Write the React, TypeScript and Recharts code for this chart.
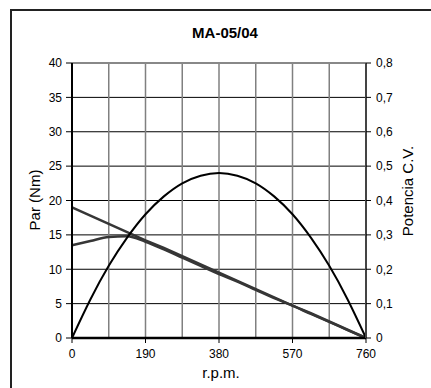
import { LineChart, Line, XAxis, YAxis, CartesianGrid, ReferenceLine } from 'recharts';

const rpm = [0, 47.5, 95, 142.5, 190, 237.5, 285, 332.5, 380, 427.5, 475, 522.5, 570, 617.5, 665, 712.5, 760];
const parRecta = [19, 17.8, 16.6, 15.4, 14.2, 13.1, 11.9, 10.7, 9.5, 8.3, 7.1, 5.9, 4.7, 3.6, 2.4, 1.2, 0];
const parCurva = [13.5, 14.1, 14.7, 14.8, 14.0, 12.9, 11.7, 10.5, 9.3, 8.2, 7.0, 5.8, 4.7, 3.5, 2.35, 1.15, 0];
const potencia = [0, 0.112, 0.21, 0.292, 0.36, 0.412, 0.45, 0.472, 0.48, 0.472, 0.45, 0.412, 0.36, 0.292, 0.21, 0.112, 0];

const xTicks = [0, 190, 380, 570, 760];
const gridRpm = [95, 190, 285, 380, 475, 570, 665];
const parTicks = [0, 5, 10, 15, 20, 25, 30, 35, 40];
const potTicks = [0, 0.1, 0.2, 0.3, 0.4, 0.5, 0.6, 0.7, 0.8];

const data = rpm.map((r, i) => ({ rpm: r, recta: parRecta[i], curva: parCurva[i], pot: potencia[i] }));

const font = '"Liberation Sans", Arial, sans-serif';
const tick = { fontSize: 12, fill: '#000', fontFamily: font };

export default function App() {
  return (
    <div style={{ position: 'absolute', left: 0, top: 0, width: 431, height: 388, overflow: 'hidden', background: '#fff', fontFamily: font }}>
      <div style={{ position: 'absolute', left: 10, top: 9, width: 460, height: 420, border: '2px solid #222' }} />
      <LineChart width={431} height={388} data={data} margin={{ top: 63, right: 0, bottom: 0, left: 0 }} style={{ position: 'absolute', left: 0, top: 0 }}>
        <CartesianGrid vertical={false} stroke="#000" strokeWidth={1} />
        {gridRpm.map(v => (
          <ReferenceLine key={v} x={v} stroke="#808080" strokeWidth={1.5} />
        ))}
        <ReferenceLine y={40} stroke="#888" strokeWidth={2} />
        <XAxis
          dataKey="rpm"
          type="number"
          domain={[0, 760]}
          ticks={xTicks}
          height={50}
          tick={tick}
          tickSize={5}
          tickMargin={6}
          axisLine={{ stroke: '#000', strokeWidth: 2.5 }}
          tickLine={{ stroke: '#000' }}
        />
        <YAxis
          domain={[0, 40]}
          ticks={parTicks}
          width={72}
          tick={tick}
          tickSize={6}
          tickMargin={4}
          axisLine={{ stroke: '#000', strokeWidth: 2 }}
          tickLine={{ stroke: '#000' }}
        />
        <YAxis
          yAxisId="right"
          orientation="right"
          domain={[0, 0.8]}
          ticks={potTicks}
          width={65}
          tick={tick}
          tickSize={5}
          tickMargin={5}
          tickFormatter={(v: number) => (v === 0 ? '0' : v.toFixed(1).replace('.', ','))}
          axisLine={{ stroke: '#444', strokeWidth: 2 }}
          tickLine={{ stroke: '#000' }}
        />
        <Line type="linear" dataKey="recta" stroke="#363636" strokeWidth={2.5} dot={false} activeDot={false} isAnimationActive={false} />
        <Line type="monotone" dataKey="curva" stroke="#363636" strokeWidth={2.5} dot={false} activeDot={false} isAnimationActive={false} />
        <Line yAxisId="right" type="natural" dataKey="pot" stroke="#000" strokeWidth={2} dot={false} activeDot={false} isAnimationActive={false} />
      </LineChart>
      <div style={{ position: 'absolute', left: 0, width: 450, top: 24, textAlign: 'center', fontWeight: 'bold', fontSize: 15, lineHeight: '18px' }}>MA-05/04</div>
      <div style={{ position: 'absolute', left: 121, width: 200, top: 364, textAlign: 'center', fontSize: 15, lineHeight: '18px' }}>r.p.m.</div>
      <div style={{ position: 'absolute', left: 35 - 60, top: 200 - 9, width: 120, textAlign: 'center', fontSize: 15, lineHeight: '18px', transform: 'rotate(-90deg)' }}>Par (Nm)</div>
      <div style={{ position: 'absolute', left: 408 - 60, top: 191 - 9, width: 120, textAlign: 'center', fontSize: 15, lineHeight: '18px', transform: 'rotate(-90deg)' }}>Potencia C.V.</div>
    </div>
  );
}
